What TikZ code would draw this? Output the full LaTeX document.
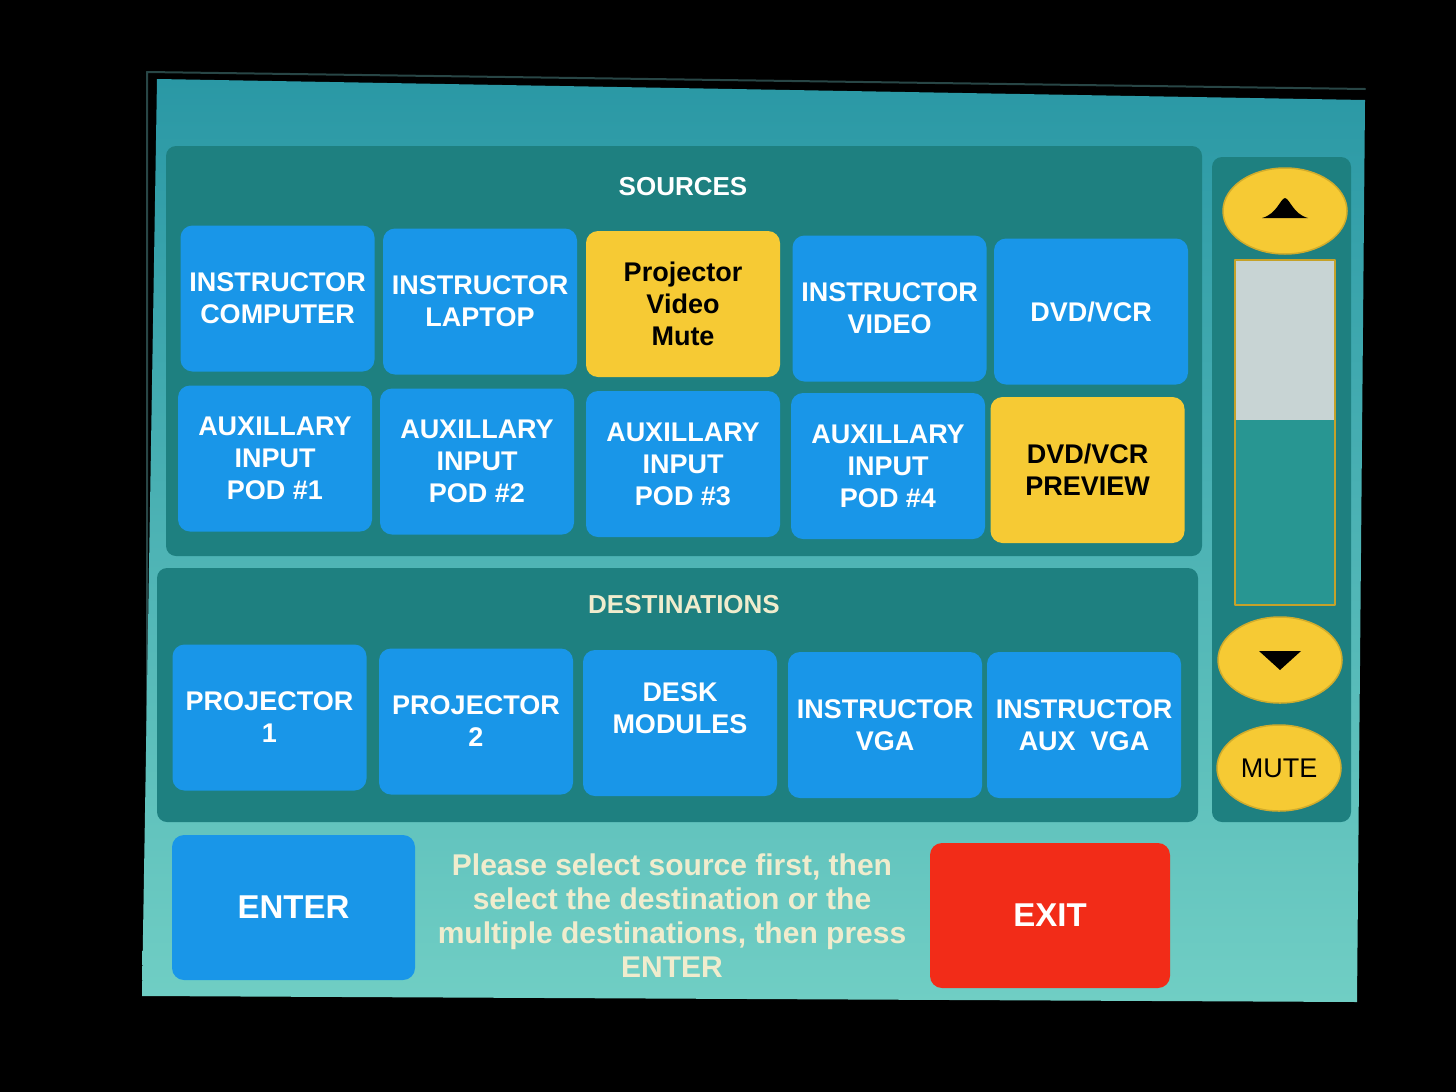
\documentclass[tikz,border=0pt]{standalone}
\usepackage{fontspec}
\setmainfont{Liberation Sans}
\usetikzlibrary{shapes.geometric}
\definecolor{scrtop}{RGB}{42,152,165}
\definecolor{scrbot}{RGB}{112,206,196}
\definecolor{panelc}{RGB}{30,128,128}
\definecolor{btnblue}{RGB}{25,150,232}
\definecolor{btnyellow}{RGB}{246,202,52}
\definecolor{btnred}{RGB}{242,44,24}
\definecolor{cream}{RGB}{240,236,205}
\definecolor{slgrey}{RGB}{200,212,212}
\definecolor{sltrack}{RGB}{40,150,146}
\definecolor{lipc}{RGB}{40,70,70}

\begin{document}
\begin{tikzpicture}[x=1pt,y=-1pt,line join=round,line cap=round,
	btn/.style={fill=btnblue,rounded corners=12pt,minimum width=194pt,minimum height=146pt,inner sep=2pt,align=center,text=white,font=\fontsize{27}{32}\selectfont\bfseries},
	selbtn/.style={btn,fill=btnyellow,text=black},
	panel/.style={fill=panelc,rounded corners=10pt},
	knob/.style={ellipse,fill=btnyellow,draw=btnyellow!85!black,line width=1.5pt,minimum width=124pt,minimum height=86pt,inner sep=0pt},
	head/.style={font=\fontsize{26}{30}\selectfont\bfseries}]
	% screen
	\fill[black] (0,0) rectangle (1456,1092);
	\draw[lipc,line width=2pt] (147,990) -- (147,72) -- (1365,89);
	\shade[top color=scrtop,bottom color=scrbot] (157,79) -- (1365,100) -- (1357,1002) -- (142,996) -- cycle;
	\fill[panel] (166,146) rectangle (1202,556);
	\fill[panel] (157,568) rectangle (1198,822);
	\fill[panel] (1212,157) rectangle (1351,822);
	% sources
	\node[head,text=white] (srclbl) at (683,187) {SOURCES};
	\node[btn] (instcomp) at (277.5,298.5) {INSTRUCTOR\\COMPUTER};
	\node[btn] (instlap) at (480,301.5) {INSTRUCTOR\\LAPTOP};
	\node[selbtn] (vmute) at (683,304) {Projector\\Video\\Mute};
	\node[btn] (instvid) at (889.5,308.5) {INSTRUCTOR\\VIDEO};
	\node[btn] (dvdvcr) at (1091,311.5) {DVD/VCR};
	\node[btn] (pod1) at (275,458.5) {AUXILLARY\\INPUT\\POD \#1};
	\node[btn] (pod2) at (477,461.5) {AUXILLARY\\INPUT\\POD \#2};
	\node[btn] (pod3) at (683,464) {AUXILLARY\\INPUT\\POD \#3};
	\node[btn] (pod4) at (888,466) {AUXILLARY\\INPUT\\POD \#4};
	\node[selbtn] (dvdprev) at (1087.5,470) {DVD/VCR\\PREVIEW};
	% destinations
	\node[head,text=cream] (dstlbl) at (684,605) {DESTINATIONS};
	\node[btn] (proj1) at (269.5,717.5) {PROJECTOR\\1};
	\node[btn] (proj2) at (476,721.5) {PROJECTOR\\2};
	\node[btn,text depth=30pt] (desk) at (680,723) {DESK\\MODULES};
	\node[btn] (instvga) at (885,725) {INSTRUCTOR\\VGA};
	\node[btn] (auxvga) at (1084,725) {INSTRUCTOR\\AUX\ \ VGA};
	% scroll bar
	\node[knob] (upbtn) at (1285,211) {};
	\fill ([shift={(-23,7)}]upbtn.center) -- ([shift={(23,7)}]upbtn.center) .. controls ([shift={(8,3)}]upbtn.center) and ([shift={(5,-12)}]upbtn.center) .. ([shift={(0,-13)}]upbtn.center) .. controls ([shift={(-5,-12)}]upbtn.center) and ([shift={(-8,3)}]upbtn.center) .. cycle;
	\fill[sltrack] (1235,260) rectangle (1335,605);
	\fill[slgrey] (1235,260) rectangle (1335,420);
	\draw[btnyellow!80!black,line width=1.5pt] (1235,260) rectangle (1335,605);
	\node[knob] (dnbtn) at (1280,660) {};
	\fill ([shift={(-21,-9)}]dnbtn.center) -- ([shift={(21,-9)}]dnbtn.center) -- ([shift={(0,10)}]dnbtn.center) -- cycle;
	\node[knob,font=\fontsize{27}{30}\selectfont] (mute) at (1279,768) {MUTE};
	% bottom row
	\node[btn,minimum width=243pt,minimum height=145pt,font=\fontsize{33}{36}\selectfont\bfseries] (enter) at (293.5,907.5) {ENTER};
	\node[text=cream,align=center,font=\fontsize{30}{34}\selectfont\bfseries] (note) at (672,916) {Please select source first, then\\select the destination or the\\multiple destinations, then press\\ENTER};
	\node[btn,fill=btnred,minimum width=240pt,minimum height=145pt,font=\fontsize{33}{36}\selectfont\bfseries] (exit) at (1050,915.5) {EXIT};
\end{tikzpicture}
\end{document}
